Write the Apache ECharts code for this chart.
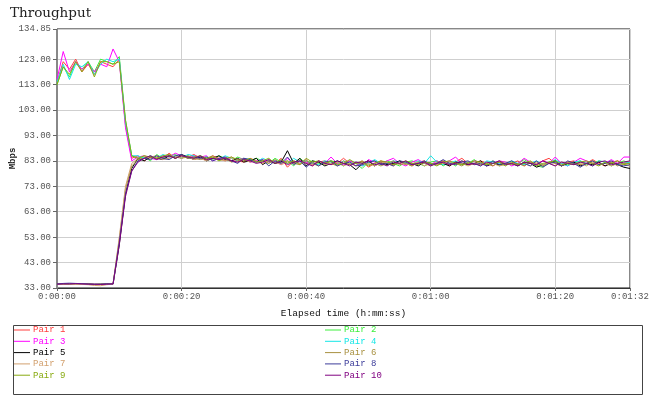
<!DOCTYPE html>
<html>
<head>
<meta charset="utf-8">
<script src="https://cdn.jsdelivr.net/npm/echarts@6/dist/echarts.min.js"></script>
<style>
    html, body { margin: 0; padding: 0; background: #fff; }
    #chart { width: 650px; height: 403px; }
</style>
</head>
<body>
<div id="chart"></div>
<script>
// one sample per second, t = 0 .. 92
var pair1 = [114, 122, 119, 123, 118, 121, 117, 122, 121, 120, 123, 97, 84,
    85, 83, 84.5, 85, 84, 86, 84, 85, 84.5, 85.5,
    84, 83.5, 85, 84, 83, 84.5, 83, 82.5, 84, 83,
    82, 83.5, 82, 84, 80.5, 83, 82, 83.5, 81, 82.5,
    83, 81.5, 82, 84, 82, 81, 83, 80.5, 82, 83,
    82, 81.5, 83, 82, 81, 82.5, 83, 81.5, 82, 83,
    81, 82.5, 84, 82, 81.5, 83, 82, 81, 82.5, 81.5,
    82, 83, 81, 82.5, 81.5, 83, 84, 82, 81, 82.5,
    83, 81.5, 82, 83.5, 82, 81, 82.5, 83, 82, 82.5];
var pair2 = [113, 120, 116, 122, 119, 122, 118, 123, 122, 121, 124, 99, 85,
    84, 84.5, 83, 85.5, 84, 85, 85.5, 84, 85, 84,
    85, 84, 83.5, 85, 84, 83, 84.5, 83.5, 83, 84,
    83, 82, 84, 82.5, 83, 81, 84, 82, 83, 82,
    81.5, 83, 82.5, 81, 83, 82, 80, 82.5, 83, 81.5,
    83, 82, 81, 82.5, 83, 82, 81, 82.5, 83, 81,
    82.5, 81, 83, 82, 83.5, 81.5, 82, 83, 81, 82,
    81.5, 82, 83.5, 82, 81, 80.5, 82.5, 83, 82, 81.5,
    82, 83, 81.5, 82, 83, 82.5, 81, 82, 83, 82];
var pair3 = [115, 126, 118, 122, 119, 121, 118, 121, 120, 127, 122, 96, 83,
    84.5, 85, 84, 83.5, 85, 84.5, 86, 85, 84, 85,
    84.5, 85, 83, 84, 84.5, 83, 83.5, 84, 82.5, 83,
    83.5, 82.5, 83, 81.5, 84, 82, 83, 82.5, 81.5, 83,
    82, 84.5, 82, 81.5, 83, 82, 81, 83.5, 82.5, 82,
    83, 84, 82, 81, 82.5, 83.5, 82, 81.5, 83, 82,
    83, 84.5, 82, 81.5, 83, 82.5, 81, 82, 83, 82.5,
    81, 82, 84, 82.5, 81.5, 83, 82, 84.5, 82, 81,
    82.5, 84, 83, 82, 81.5, 82, 83.5, 82, 84.5, 84.5];
var pair4 = [114, 121, 115, 121, 120, 122, 117, 121, 123, 122, 123, 98, 85,
    85, 84, 85, 84, 85.5, 84.5, 85, 84, 85.5, 85,
    84, 84.5, 84, 83.5, 85, 84, 83, 84, 83.5, 82.5,
    84, 83, 82.5, 83, 82, 84, 82.5, 83, 82, 81.5,
    83, 82.5, 81.5, 83, 82, 82.5, 81, 82, 83.5, 82,
    81.5, 83, 82.5, 82, 81.5, 83, 82, 85, 82.5, 81.5,
    82, 83, 81.5, 82.5, 82, 81, 83, 82.5, 82, 81.5,
    83, 82, 81.5, 82, 83, 81.5, 82, 83.5, 82, 81,
    82.5, 83, 82, 81, 83, 82.5, 82, 81.5, 82, 82.5];
var pair5 = [34.5, 34.6, 34.5, 34.7, 34.6, 34.5, 34.4, 34.5, 34.6, 34.5, 50, 70, 80,
    84, 83, 84.5, 84, 83.5, 85, 84, 85.5, 84.5, 83.5,
    84.5, 83, 84, 85, 83.5, 83, 84, 82.5, 83, 84,
    81.5, 83, 82, 82.5, 87, 82, 84, 81, 83, 82.5,
    81, 82, 83, 82, 81.5, 79.5, 82, 83, 81, 82.5,
    81.5, 82, 83, 81.5, 82, 81, 82.5, 82, 81.5, 82,
    81, 82.5, 82, 81.5, 82, 83, 81, 82, 81.5, 82,
    82, 81, 82.5, 82, 80.5, 81.5, 82, 83, 81, 82,
    82.5, 81, 82, 81.5, 82.5, 81, 82, 81.5, 80.5, 80];
var pair6 = [34.6, 34.5, 34.7, 34.5, 34.6, 34.8, 34.5, 34.6, 34.5, 34.7, 52, 72, 81,
    83.5, 84, 85, 84, 84.5, 85, 84.5, 84, 85, 84,
    83.5, 84, 85, 83.5, 84, 82.5, 83, 84, 83, 82.5,
    83, 82, 83.5, 82, 83, 82, 81.5, 83, 82, 81,
    82.5, 82, 81, 83, 81.5, 82, 83, 81.5, 82, 81,
    82, 83, 81.5, 82, 81, 82.5, 82, 81, 82.5, 83,
    81.5, 82, 81, 82.5, 82, 81.5, 82, 81, 83, 82,
    81.5, 82, 81, 82.5, 82, 81, 82.5, 82, 81, 82.5,
    82, 81.5, 82, 83, 81.5, 82, 82.5, 81, 82, 82];
var pair7 = [34.5, 34.6, 34.5, 34.5, 34.4, 34.3, 34.0, 33.9, 34.3, 34.5, 53, 73, 82,
    84, 85, 84, 84.5, 83.5, 84, 85, 84, 84.5, 83.5,
    84, 83, 84.5, 83.5, 83, 84, 82.5, 83.5, 82.5, 83,
    82, 83, 82.5, 81.5, 82.5, 82, 83, 82, 81.5, 83,
    81.5, 82, 82.5, 81, 82, 82.5, 81.5, 82, 81, 82.5,
    82, 81, 82.5, 81.5, 82, 82.5, 81, 82, 81.5, 82,
    82.5, 81.5, 82, 81, 82, 82.5, 81.5, 82, 81, 81.5,
    82, 81.5, 82, 81, 82.5, 81.5, 82, 81, 82.5, 82,
    81.5, 82, 81, 82.5, 81.5, 82, 81, 82, 81.5, 81];
var pair8 = [34.6, 34.8, 34.9, 34.8, 34.7, 34.6, 34.5, 34.5, 34.6, 34.6, 51, 70, 79,
    83, 84, 83.5, 85, 84, 83.5, 85, 85.5, 84, 84.5,
    84, 84.5, 83, 84, 84.5, 83, 82, 84, 83.5, 82.5,
    83.5, 81, 83, 82, 84.5, 81.5, 83, 80.5, 82.5, 81,
    82.5, 83, 81, 82, 82.5, 81, 81.5, 82.5, 83, 81.5,
    82, 81, 83, 82.5, 81.5, 82, 83, 81.5, 82, 83.5,
    82, 81.5, 82.5, 83, 81.5, 82, 81, 83, 81.5, 82,
    83, 81.5, 82, 81, 83, 80.5, 82, 82.5, 81, 83,
    82, 80.5, 82, 83, 81.5, 82, 83, 81.5, 81, 81.5];
var pair9 = [113, 120, 117, 122, 118, 122, 116, 122, 122, 121, 122, 99, 85,
    84, 85, 84.5, 84, 85, 85.5, 84, 85, 84, 84.5,
    85, 84, 84.5, 83, 84, 84.5, 83.5, 83, 84, 82.5,
    83, 84, 82, 83.5, 82, 83, 81.5, 84, 82.5, 83,
    82, 83, 81.5, 82, 83.5, 82, 82.5, 81, 82, 83,
    82.5, 81.5, 82, 83, 82, 81.5, 82.5, 82, 81, 82.5,
    83, 82, 81.5, 82, 83, 82.5, 81.5, 82, 82.5, 81,
    82.5, 81.5, 82, 83, 81, 82, 82.5, 83, 81.5, 82,
    81.5, 82.5, 83, 82, 81, 82.5, 82, 83, 81.5, 82];
var pair10 = [34.5, 34.6, 34.6, 34.7, 34.6, 34.5, 34.5, 34.4, 34.5, 34.6, 50, 69, 79,
    82.5, 84, 85, 83.5, 84.5, 85, 84, 85, 84.5, 84,
    85, 83.5, 84, 83.5, 84, 83, 82.5, 83.5, 83, 82,
    82.5, 83.5, 82, 83, 81.5, 82.5, 83, 82, 81, 83,
    82, 81.5, 83, 82, 81, 82.5, 82, 83, 81.5, 82,
    81, 82.5, 82, 83, 81.5, 82, 82.5, 81, 82, 82.5,
    81.5, 82, 83, 81.5, 82, 81, 82.5, 82, 83, 81.5,
    82, 81, 82.5, 82, 81.5, 83, 82, 81, 82.5, 82,
    81.5, 82.5, 82, 81, 82.5, 83, 81.5, 82, 82.5, 83];

var pairNames = ['Pair 1', 'Pair 2', 'Pair 3', 'Pair 4', 'Pair 5', 'Pair 6', 'Pair 7', 'Pair 8', 'Pair 9', 'Pair 10'];
var pairData = [pair1, pair2, pair3, pair4, pair5, pair6, pair7, pair8, pair9, pair10];
var pairColors = ['#ff3c3c', '#3cee3c', '#ff00ff', '#14e6e6', '#000000', '#a89040', '#d2a06e', '#3c3c9a', '#88aa10', '#800080'];

var yTicks = [33, 43, 53, 63, 73, 83, 93, 103, 113, 123, 134.85];
var xMax = 92;

var labelFont = 'Liberation Mono';

function hms(sec) {
    var h = Math.floor(sec / 3600);
    var m = Math.floor(sec % 3600 / 60);
    var s = Math.round(sec % 60);
    return h + ':' + (m < 10 ? '0' : '') + m + ':' + (s < 10 ? '0' : '') + s;
}

var series = [];
pairNames.forEach(function (name, i) {
    series.push({
        name: name,
        type: 'line',
        showSymbol: false,
        symbol: 'none',
        color: pairColors[i],
        lineStyle: { width: 1 },
        data: pairData[i].map(function (v, t) { return [t, v]; })
    });
});

function legendItems(idx) {
    return idx.map(function (i) {
        return { name: pairNames[i], textStyle: { color: pairColors[i] } };
    });
}

var legendBase = {
    orient: 'vertical',
    top: 325,
    padding: 0,
    itemGap: 1.3,
    itemWidth: 16,
    itemHeight: 1,
    icon: 'rect',
    selectedMode: false,
    textStyle: { fontFamily: labelFont, fontSize: 9, lineHeight: 10, padding: [0, 0, 0, -2] }
};

var option = {
    animation: false,
    title: {
        text: 'Throughput',
        left: 10,
        top: 6,
        padding: 0,
        textStyle: { fontFamily: 'DejaVu Serif', fontSize: 13.5, fontWeight: 'normal', color: '#222' }
    },
    grid: {
        left: 57,
        right: 20,
        top: 29,
        bottom: 115,
        outerBoundsMode: 'none',
        containLabel: false,
        show: true,
        borderColor: '#111',
        borderWidth: 1
    },
    legend: [
        Object.assign({}, legendBase, { left: 14, data: legendItems([0, 2, 4, 6, 8]) }),
        Object.assign({}, legendBase, { left: 325, data: legendItems([1, 3, 5, 7, 9]) })
    ],
    xAxis: {
        type: 'value',
        min: 0,
        max: xMax,
        interval: 20,
        name: 'Elapsed time (h:mm:ss)',
        nameLocation: 'middle',
        nameGap: 20,
        nameTextStyle: { fontFamily: labelFont, fontSize: 9.5, color: '#111' },
        axisLine: { lineStyle: { color: '#333' } },
        axisTick: { show: true, length: 3, lineStyle: { color: '#666' } },
        axisLabel: {
            fontFamily: labelFont,
            fontSize: 9,
            color: '#555',
            margin: 4,
            showMaxLabel: true,
            formatter: function (v) { return hms(v); }
        },
        splitLine: { show: true, lineStyle: { color: '#cfcfcf' } }
    },
    yAxis: {
        type: 'value',
        min: 33,
        max: 134.85,
        name: 'Mbps',
        nameLocation: 'middle',
        nameGap: 40,
        nameRotate: 90,
        nameMoveOverlap: false,
        nameTextStyle: { fontFamily: labelFont, fontSize: 9, fontWeight: 'bold', color: '#222' },
        axisLine: { show: true, lineStyle: { color: '#888' } },
        axisTick: { show: true, length: 4, customValues: yTicks, lineStyle: { color: '#666' } },
        axisLabel: {
            fontFamily: labelFont,
            fontSize: 9,
            color: '#555',
            margin: 6,
            customValues: yTicks,
            formatter: function (v) { return v.toFixed(2); }
        },
        splitLine: { show: true, lineStyle: { color: '#cfcfcf' } }
    },
    graphic: [{
        type: 'rect',
        left: 11,
        top: 323,
        shape: { width: 629, height: 69 },
        style: { fill: 'none', stroke: '#444', lineWidth: 1 },
        silent: true
    }],
    series: series
};

var chart = echarts.init(document.getElementById('chart'));
chart.setOption(option);
window.addEventListener('resize', function () {
    chart.resize();
});
</script>
</body>
</html>
